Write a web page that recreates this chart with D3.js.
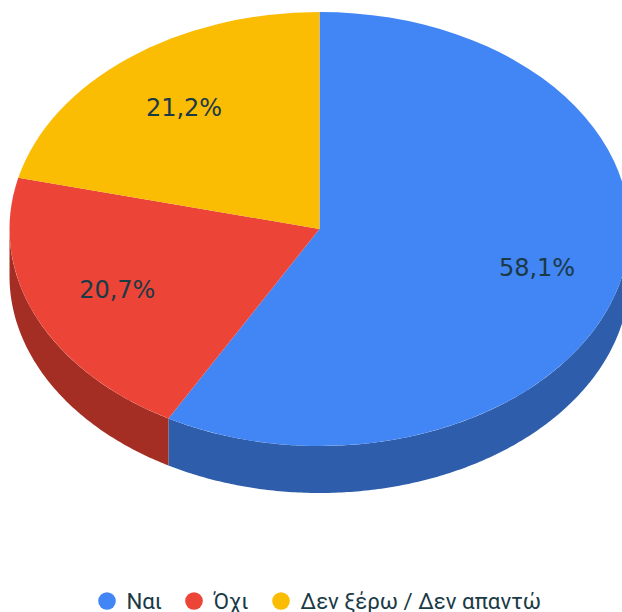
<!DOCTYPE html>
<html>
<head>
<meta charset="utf-8">
<script src="https://cdn.jsdelivr.net/npm/d3@7"></script>
<style>
  html, body { margin: 0; padding: 0; background: #fff; overflow: hidden; }
</style>
</head>
<body>
<div id="chart"></div>
<script>
const width = 622;
const height = 612;

const categories = ["Ναι", "Όχι", "Δεν ξέρω / Δεν απαντώ"];
const values = [58.1, 20.7, 21.2];
const colors = ["#4285f4", "#ec4436", "#fbbc04"];
const sideColors = ["#2e5dab", "#a52e24", "#b08403"];

const cx = 319.5;
const cy = 229;
const rx = 310;
const ry = 217;
const depth = 47;
const labelRatio = 0.71;
const labelNudgeX = [4.5, -0.5, 0.5];
const labelNudgeY = [0, -1, 0];
const textColor = "#1a3a46";

const svg = d3
  .select("#chart")
  .append("svg")
  .attr("width", width)
  .attr("height", height)
  .style("display", "block");

const pie = d3.pie().sort(null).value((d) => d);
const slices = pie(values);

// point on the tilted disc, angle measured clockwise from the top
const ellipseX = (a) => cx + rx * Math.sin(a);
const ellipseY = (a) => cy - ry * Math.cos(a);

// Side wall: only the front half of the disc (90deg to 270deg) can be seen
const sideLine = d3.line().x((d) => d[0]).y((d) => d[1]);
slices.forEach((s, i) => {
  const start = Math.max(s.startAngle, Math.PI / 2);
  const end = Math.min(s.endAngle, (3 * Math.PI) / 2);
  if (start >= end) return;
  const angles = d3.range(start, end, 0.01).concat([end]);
  const top = angles.map((a) => [ellipseX(a), ellipseY(a)]);
  const bottom = angles.map((a) => [ellipseX(a), ellipseY(a) + depth]).reverse();
  svg
    .append("path")
    .attr("d", sideLine(top.concat(bottom)) + "Z")
    .attr("fill", sideColors[i]);
});

// Top face
const arc = d3.arc().innerRadius(0).outerRadius(rx);
svg
  .append("g")
  .attr("transform", `translate(${cx},${cy}) scale(1,${ry / rx})`)
  .selectAll("path")
  .data(slices)
  .enter()
  .append("path")
  .attr("d", arc)
  .attr("fill", (d, i) => colors[i]);

// Percent labels
svg
  .selectAll(".pct")
  .data(slices)
  .enter()
  .append("text")
  .attr("class", "pct")
  .attr("x", (d, i) => cx + labelNudgeX[i] + labelRatio * rx * Math.sin((d.startAngle + d.endAngle) / 2))
  .attr("y", (d, i) => cy + labelNudgeY[i] - labelRatio * ry * Math.cos((d.startAngle + d.endAngle) / 2))
  .attr("dy", "0.35em")
  .attr("text-anchor", "middle")
  .attr("font-family", "'DejaVu Sans', sans-serif")
  .attr("font-size", 24)
  .attr("fill", textColor)
  .text((d) => d3.format(".1f")(d.data).replace(".", ",") + "%");

// Legend
const legendX = [107, 194, 281];
const legendY = 601;
const legend = svg
  .selectAll(".legend")
  .data(categories)
  .enter()
  .append("g")
  .attr("class", "legend")
  .attr("transform", (d, i) => `translate(${legendX[i]},${legendY})`);

legend
  .append("circle")
  .attr("r", 8.8)
  .attr("fill", (d, i) => colors[i]);

legend
  .append("text")
  .attr("x", 19.5)
  .attr("y", 7.5)
  .attr("font-family", "Roboto, sans-serif")
  .attr("font-size", 22.2)
  .attr("fill", textColor)
  .text((d) => d);
</script>
</body>
</html>
